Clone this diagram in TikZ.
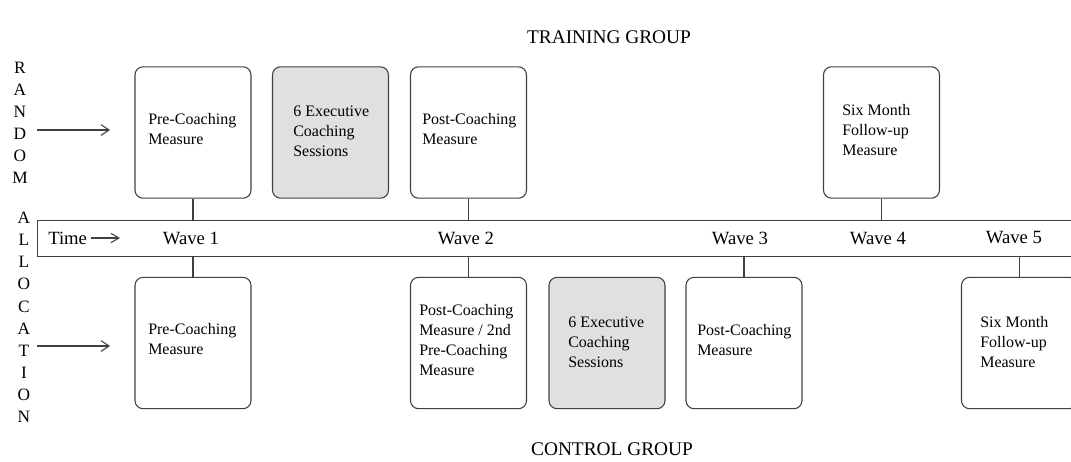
\documentclass[tikz,border=0pt]{standalone}
\usepackage{fontspec}
\setmainfont{Liberation Serif}
\usetikzlibrary{arrows.meta}
\definecolor{linegray}{HTML}{404040}
\definecolor{sessionfill}{HTML}{E0E0E0}
\tikzset{
  stage/.style={draw=linegray, line width=0.8pt, rounded corners=6pt,
    minimum width=87pt, minimum height=98.5pt, inner sep=0pt},
  session/.style={stage, fill=sessionfill},
  boxtext/.style={anchor=west, inner sep=0pt, align=left,
    font=\fontsize{12pt}{15pt}\selectfont},
  wavetext/.style={inner sep=0pt, font=\fontsize{14pt}{16pt}\selectfont},
  grouptitle/.style={inner sep=0pt, font=\fontsize{14.5pt}{17pt}\selectfont},
  letter/.style={inner sep=0pt, font=\fontsize{13pt}{15pt}\selectfont},
  link/.style={draw=linegray, line width=0.8pt},
  allocarrow/.style={draw=linegray, line width=0.8pt,
    -{Straight Barb[length=6pt, width=8pt]}},
}
\begin{document}
\begin{tikzpicture}[x=0.75pt, y=-0.75pt]
\useasboundingbox (0,0) rectangle (1071,461);
\clip (0,0) rectangle (1071,461);

% group titles
\node[grouptitle] (train) at (609,37) {TRAINING GROUP};
\node[grouptitle] (control) at (612,449) {CONTROL GROUP};

% vertical "RANDOM ALLOCATION" label
\foreach \ch [count=\i] in {R,A,N,D,O,M}
  \node[letter] (r\i) at (20,{68+22*(\i-1)}) {\ch};
\foreach \ch [count=\i] in {A,L,L,O,C,A,T,I,O,N}
  \node[letter] (a\i) at (24,{218+22.1*(\i-1)}) {\ch};

% time bar
\node[draw=linegray, line width=0.8pt, inner sep=0pt, anchor=north west,
  minimum width=780pt, minimum height=27pt] (bar) at (37,220) {};
\node[wavetext, anchor=west] (time) at (48,238) {Time};
\coordinate (timeend) at (120,238);
\draw[link, -{Straight Barb[length=6pt, width=7pt]}] ([xshift=3pt]time.east) -- (timeend);
\node[wavetext] (w1) at (191,238) {Wave 1};
\node[wavetext] (w2) at (466,238) {Wave 2};
\node[wavetext] (w3) at (740,238) {Wave 3};
\node[wavetext] (w4) at (878,238) {Wave 4};
\node[wavetext] (w5) at (1014,238) {Wave 5};

% training group stages
\node[stage]   (b1) at (193,132.5) {};
\node[session] (b2) at (330.5,132.5) {};
\node[stage]   (b3) at (468.5,132.5) {};
\node[stage]   (b4) at (881.5,132.5) {};
\node[boxtext] (tb1) at (148,129) {Pre-Coaching\\Measure};
\node[boxtext] (tb2) at (293,131) {6 Executive\\Coaching\\Sessions};
\node[boxtext] (tb3) at (422,129) {Post-Coaching\\Measure};
\node[boxtext] (tb4) at (842,130) {Six Month\\Follow-up\\Measure};

% control group stages
\node[stage]   (c1) at (193,343) {};
\node[stage]   (c2) at (468.5,343) {};
\node[session] (c3) at (607,343) {};
\node[stage]   (c4) at (744,343) {};
\node[stage]   (c5) at (1019.5,343) {};
\node[boxtext] (tc1) at (148,339) {Pre-Coaching\\Measure};
\node[boxtext] (tc2) at (419,340) {Post-Coaching\\Measure / 2nd\\Pre-Coaching\\Measure};
\node[boxtext] (tc3) at (568,342) {6 Executive\\Coaching\\Sessions};
\node[boxtext] (tc4) at (697,340) {Post-Coaching\\Measure};
\node[boxtext] (tc5) at (980,342) {Six Month\\Follow-up\\Measure};

% links from stages to the time bar
\draw[link] (b1.south) -- (b1.south |- bar.north);
\draw[link] (b3.south) -- (b3.south |- bar.north);
\draw[link] (b4.south) -- (b4.south |- bar.north);
\draw[link] (c1.north) -- (c1.north |- bar.south);
\draw[link] (c2.north) -- (c2.north |- bar.south);
\draw[link] (c4.north) -- (c4.north |- bar.south);
\draw[link] (c5.north) -- (c5.north |- bar.south);

% allocation arrows
\coordinate (ta) at (37,130);
\coordinate (ca) at (37,346);
\draw[allocarrow] (ta) -- (ta -| 110,0);
\draw[allocarrow] (ca) -- (ca -| 110,0);
\end{tikzpicture}
\end{document}
